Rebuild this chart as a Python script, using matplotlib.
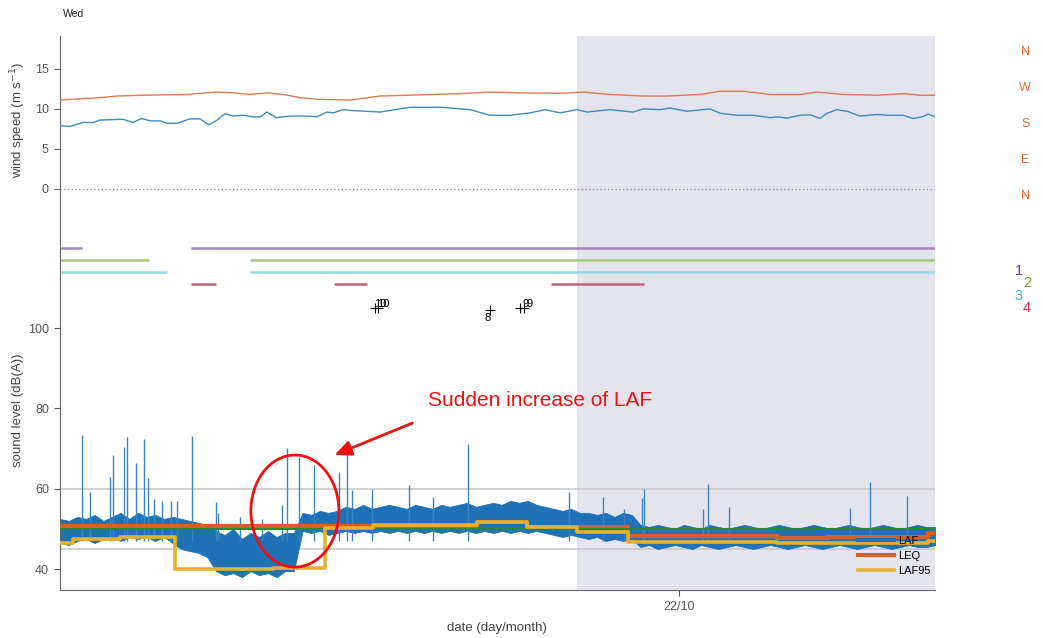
import numpy as np
import matplotlib
matplotlib.use('Agg')
import matplotlib.pyplot as plt
from matplotlib.patches import Ellipse

plt.rcParams['font.family'] = ['Liberation Sans', 'DejaVu Sans']

# time axis in hours since 21/10 00:00
t_start, t_end = 6.0, 31.44
night = (21.03, 31.44)

# wind speed (m/s)
wind_hi_t = [6.00, 7.16, 7.66, 8.41, 9.11, 9.69, 10.57, 11.03, 11.52, 12.02, 12.48, 12.98, 13.47,
             14.43, 15.30, 16.47, 17.63, 18.50, 19.38, 20.54, 21.21, 21.99, 22.95, 23.65, 24.61,
             25.19, 25.86, 26.65, 27.52, 28.01, 28.77, 29.76, 30.51, 31.01, 31.44]
wind_hi = [11.1, 11.4, 11.6, 11.7, 11.75, 11.8, 12.1, 12.0, 11.8, 12.0, 11.8, 11.4, 11.2,
           11.1, 11.6, 11.75, 11.9, 12.1, 12.0, 11.95, 12.1, 11.8, 11.6, 11.6, 11.8,
           12.2, 12.2, 11.8, 11.8, 12.1, 11.8, 11.7, 11.9, 11.7, 11.7]
wind_lo_t = [6.00, 6.29, 6.67, 6.96, 7.16, 7.83, 8.12, 8.38, 8.62, 8.91, 9.11, 9.40, 9.78, 10.07,
             10.33, 10.57, 10.80, 11.03, 11.32, 11.61, 11.82, 12.02, 12.28, 12.69, 13.18, 13.47,
             13.76, 13.94, 14.23, 14.43, 15.30, 16.18, 17.05, 17.92, 18.50, 19.09, 19.67, 20.10,
             20.54, 21.03, 21.32, 21.99, 22.66, 22.95, 23.45, 23.74, 24.23, 24.90, 25.19, 25.69,
             26.15, 26.65, 26.88, 27.14, 27.52, 27.81, 28.10, 28.30, 28.59, 28.88, 29.26, 29.76,
             30.05, 30.51, 30.80, 31.07, 31.24, 31.44]
wind_lo = [7.9, 7.8, 8.3, 8.3, 8.6, 8.7, 8.3, 8.8, 8.5, 8.5, 8.2, 8.2, 8.75, 8.75,
           8.0, 8.6, 9.4, 9.1, 9.2, 9.0, 9.0, 9.6, 8.9, 9.1, 9.1, 9.0,
           9.6, 9.5, 9.9, 9.8, 9.6, 10.2, 10.2, 9.9, 9.2, 9.2, 9.5, 9.9,
           9.5, 9.9, 9.6, 9.9, 9.6, 10.0, 9.9, 10.1, 9.7, 10.0, 9.45, 9.2,
           9.2, 8.9, 9.0, 8.85, 9.2, 9.25, 8.8, 9.45, 9.9, 9.7, 9.1, 9.3,
           9.2, 9.2, 8.8, 9.0, 9.35, 9.0]
directions = ['N', 'W', 'S', 'E', 'N']
dir_pos = [17.1, 12.6, 8.1, 3.6, -0.9]

# turbine status bars (level on the dB axis, segments in hours)
status_names = ['1', '2', '3', '4']
status_level = [120, 117, 114, 111]
status_segs = [
    [(6.00, 6.65), (9.82, 31.44)],
    [(6.00, 8.60), (11.52, 31.44)],
    [(6.00, 9.10), (11.52, 31.44)],
    [(9.82, 10.54), (13.97, 14.93), (20.28, 22.97)],
]
status_line_col = ['#a783b6', '#a9c67d', '#93dbe3', '#c0677a']
status_text_col = ['#7b3a9e', '#6fae2e', '#39b5e3', '#b8304e']

# events
event_t = [15.16, 15.25, 18.50, 19.38, 19.49]
event_y = [105, 105, 104.6, 105, 105]
event_lab = ['10', '10', '8', '9', '9']

# sound levels: LAF envelope on a regular time grid
laf_top = [52.5, 52, 53, 52.5, 53.5, 52, 53, 54, 52.5, 54,
           53, 53.5, 52.5, 53, 52.5, 52, 51.5, 51, 49.5, 48.5,
           50, 47.5, 49, 48, 49.5, 48, 49, 49, 54, 53.5,
           54.5, 54, 54.5, 55.5, 55, 56, 55, 55.5, 56, 55.5,
           55, 56, 55.5, 55, 56, 55.5, 56, 56.5, 55.5, 56,
           56.5, 56, 57, 56.5, 57, 56, 55.5, 55, 54.5, 55,
           54, 54, 53.5, 54, 53, 54, 53.5, 51, 50.5, 51,
           50.5, 50, 51, 50.5, 50, 51, 50.5, 50, 50.5, 51,
           50.5, 50, 50.5, 51, 50.5, 50, 50.5, 51, 50.5, 50,
           50.5, 51, 50.5, 50, 50.5, 51, 50.5, 50, 50.5, 51,
           50.5, 50.5]
laf_bot = [46.5, 46, 47, 47.5, 46.5, 47.5, 48, 47, 48, 47.5,
           48, 47, 48, 46.5, 45, 44.5, 44, 43, 39.5, 38.5,
           39, 38, 39.5, 38.5, 39, 38, 39.5, 39.5, 49.5, 49,
           49.5, 48.5, 49, 49.5, 49, 49.5, 49, 49.5, 49, 49.5,
           49, 49.5, 49, 49.5, 49, 49.5, 49, 49.5, 49, 49.5,
           49, 49.5, 49, 49.5, 49, 49.5, 49, 48.5, 48, 48.5,
           48, 47.5, 48, 47, 47.5, 47, 47.5, 45.5, 46, 45,
           45.5, 46, 45.5, 45, 46, 45.5, 45, 45.5, 46, 45.5,
           45, 45.5, 46, 45.5, 45, 45.5, 46, 45.5, 45, 45.5,
           46, 45.5, 45, 45.5, 46, 45.5, 45, 45.5, 46, 45.5,
           45.5, 46]
laf_t = np.linspace(t_start, t_end, len(laf_top))
spike_t = [6.64, 6.87, 7.45, 7.54, 7.86, 7.95, 8.21, 8.44, 8.56, 8.73, 8.97, 9.23, 9.40, 9.84,
           10.54, 10.59, 11.23, 11.87, 12.46, 12.60, 12.95, 13.39, 14.11, 14.35, 14.49, 15.07,
           16.15, 16.85, 17.86, 20.80, 21.79, 22.40, 22.92, 22.98, 24.70, 24.84, 25.45,
           28.97, 29.55, 30.63]
spike_v = [73.4, 59.2, 63, 68.3, 70.4, 73, 66.4, 72.4, 62.7, 57.5, 57, 57, 57, 73.1,
           56.7, 54, 53, 52.5, 56, 70.2, 68, 66, 64.2, 71.4, 59.7, 60,
           61, 58, 71.1, 59.2, 58, 55, 57.7, 60, 55, 61.2, 55.5,
           55.2, 61.7, 58.2]
spike_base = 47
leq_t = [6.0, 18.13, 19.58, 22.52, 26.85, 28.33, 31.24, 31.44]
leq_v = [50.7, 51.7, 50.6, 48.2, 47.7, 48.0, 49.0, 49.0]
laf95_t = [6.0, 6.38, 7.74, 9.34, 12.19, 13.71, 15.10, 18.13, 19.58, 21.03, 22.52, 26.85, 31.24, 31.44]
laf95_v = [46.5, 47.5, 48.0, 40.0, 40.2, 50.2, 51.0, 51.7, 50.5, 49.2, 46.7, 46.4, 47.0, 47.0]
bg_level = 49.9

fig = plt.figure(figsize=(10.43, 6.38), dpi=100)
pos = [60 / 1043, 1 - 590 / 638, 875 / 1043, 554 / 638]
ax = fig.add_axes(pos)
axw = fig.add_axes(pos, sharex=ax)
axw.patch.set_alpha(0)

tick_col = '#555555'
spine_col = '#666666'
for a in (ax, axw):
    for s in ('top', 'right'):
        a.spines[s].set_visible(False)
    a.tick_params(colors=tick_col, labelsize=9, length=4.5, width=0.8, direction='out')
ax.spines['left'].set_color(spine_col)
ax.spines['bottom'].set_color(spine_col)
axw.spines['bottom'].set_visible(False)
axw.spines['left'].set_visible(False)
axw.tick_params(axis='y', color=spine_col)
axw.tick_params(axis='x', bottom=False, labelbottom=False)

ax.set_xlim(t_start, t_end)
ax.set_ylim(34.8, 172.7)
axw.set_ylim(-50.1, 19.1)
ax.set_yticks([40, 60, 80, 100])
axw.set_yticks([0, 5, 10, 15])
ax.set_xticks([24])
ax.set_xticklabels(['22/10'])

ax.axvspan(night[0], night[1], color='#e4e4ef', lw=0, zorder=0)

# wind
axw.axhline(0, color='#8a8a8a', ls=(0, (1, 2)), lw=0.9)
axw.plot(wind_hi_t, wind_hi, color='#e07a50', lw=1)
axw.plot(wind_lo_t, wind_lo, color='#3b8cc4', lw=1)
for d, p in zip(directions, dir_pos):
    axw.text(1.103, p, d, color='#e2682f', fontsize=9, ha='center', va='center',
             transform=axw.get_yaxis_transform(), clip_on=False)

# status
for lev, segs, c in zip(status_level, status_segs, status_line_col):
    for s0, s1 in segs:
        ax.plot([s0, s1], [lev, lev], color=c, lw=1.8, solid_capstyle='butt')
lab_xy = [(1019, 271), (1027, 283), (1019, 296), (1027, 308)]
for name, (px, py), c in zip(status_names, lab_xy, status_text_col):
    fig.text(px / 1043, 1 - py / 638, name, color=c, fontsize=10.5, ha='center', va='center')

# events
ax.plot(event_t, event_y, '+', color='black', ms=7, mew=0.8)
for tt, yy, lab in zip(event_t, event_y, event_lab):
    if lab == '8':
        ax.annotate(lab, (tt, yy), xytext=(-2, -6), textcoords='offset points',
                    fontsize=8, ha='center', va='center')
    else:
        ax.annotate(lab, (tt, yy), xytext=(4, 3), textcoords='offset points',
                    fontsize=8, ha='center', va='center')

# sound
ax.axhline(60, color='#c9c9c9', lw=1.2, zorder=1)
ax.axhline(45, color='#c9c9c9', lw=1.2, zorder=1)
laf_col = '#1f72b8'
ax.fill_between(laf_t, laf_bot, laf_top, color=laf_col, lw=0.6, edgecolor=laf_col, zorder=2)
ax.vlines(spike_t, spike_base, spike_v, color='#3a85c0', lw=1, zorder=2)
ax.plot([], [], color=laf_col, lw=3, label='LAF')
ax.plot(leq_t, leq_v, color='#d95f2a', lw=3, drawstyle='steps-post', label='LEQ', zorder=3)
ax.axhline(bg_level, color='#2a8a2a', lw=1.5, zorder=3)
ax.plot(laf95_t, laf95_v, color='#e8b031', lw=2.6, drawstyle='steps-post', label='LAF95', zorder=4)

ax.legend(loc='center left', bbox_to_anchor=(848 / 1043, 1 - 556 / 638),
          bbox_transform=fig.transFigure, frameon=False, fontsize=8,
          handlelength=3.2, labelspacing=0.45, handletextpad=0.4)

# annotation
ax.add_patch(Ellipse((12.83, 54.45), 2.56, 27.9, fill=False, edgecolor='#ee1111', lw=2, zorder=6))
fig.text(428 / 1043, 1 - 401 / 638, 'Sudden increase of LAF', color='#ee1111',
         fontsize=15, ha='left', va='center')
ax.annotate('', xy=(332 / 1043, 1 - 456 / 638), xytext=(415 / 1043, 1 - 422 / 638),
            xycoords='figure fraction', textcoords='figure fraction',
            arrowprops=dict(arrowstyle='-|>,head_length=1.0,head_width=0.45',
                            color='#ee1111', lw=2))

fig.text(63 / 1043, 1 - 14 / 638, 'Wed', fontsize=7.5, color='#222222', ha='left', va='center')
fig.text(18 / 1043, 1 - 120 / 638, 'wind speed (m s$^{-1}$)', rotation=90,
         fontsize=9.5, color='#444444', ha='center', va='center')
fig.text(18 / 1043, 1 - 410 / 638, 'sound level (dB(A))', rotation=90,
         fontsize=9.5, color='#444444', ha='center', va='center')
fig.text(497 / 1043, 1 - 628 / 638, 'date (day/month)', fontsize=9.5, color='#444444',
         ha='center', va='center')

fig.savefig('out.png', dpi=100)
